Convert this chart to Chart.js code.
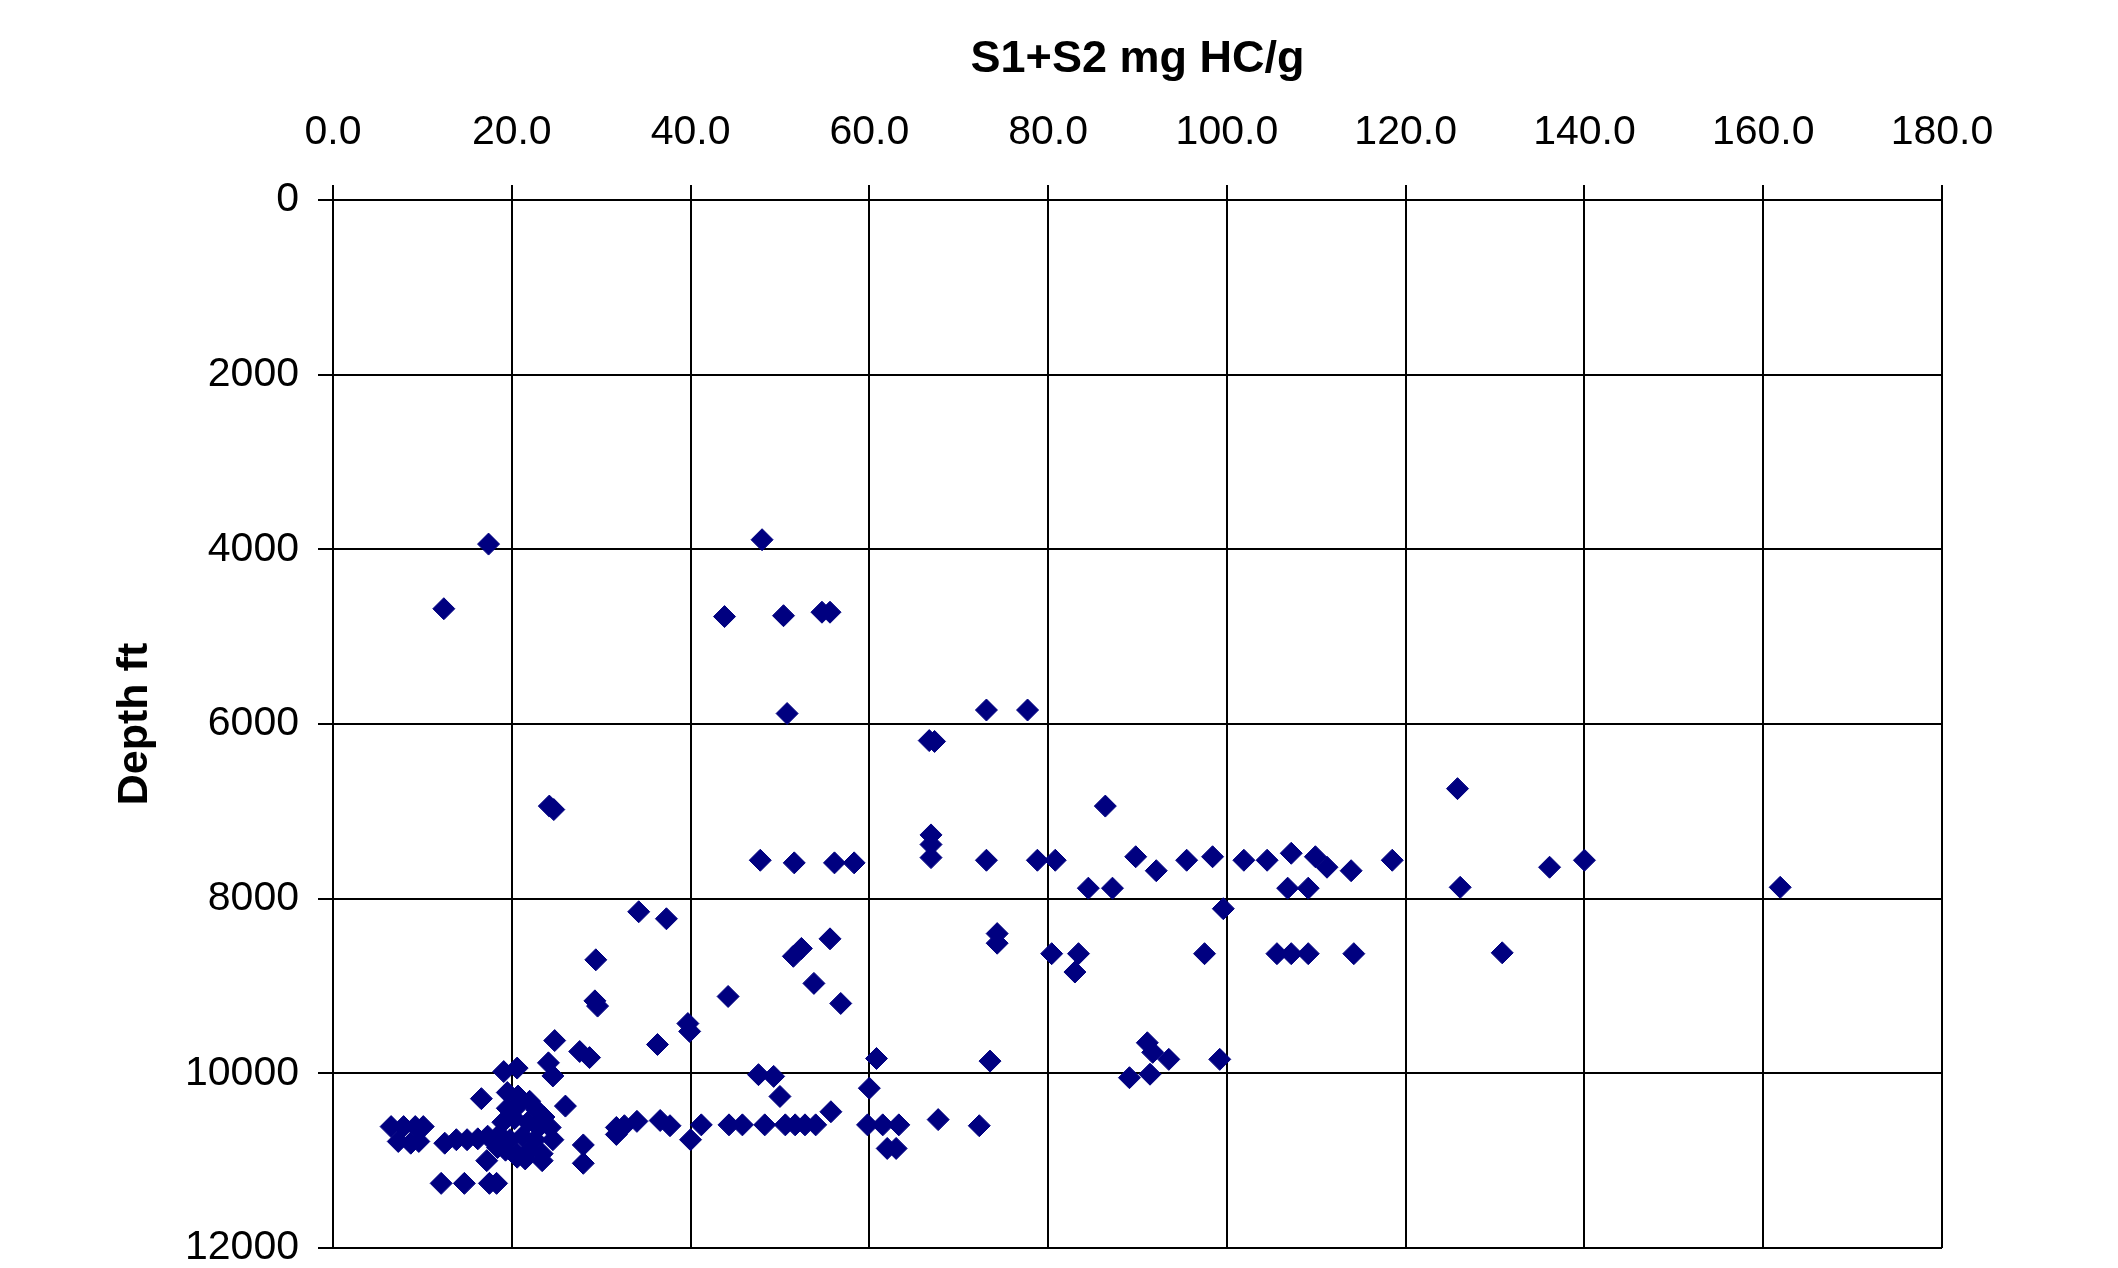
<!DOCTYPE html>
<html>
<head>
<meta charset="utf-8">
<title>S1+S2 vs Depth</title>
<script src="https://cdn.jsdelivr.net/npm/chart.js@4.4.1/dist/chart.umd.min.js"></script>
<style>
  html, body { margin: 0; padding: 0; background: #fff; }
  #wrap { width: 2118px; height: 1268px; position: relative; }
</style>
</head>
<body>
<div id="wrap"><canvas id="chart"></canvas></div>
<script>
// S1+S2 (mg HC/g), paired with depth (ft)
const s1s2Values = [
    17.4, 12.4, 48.0, 43.8, 50.4, 54.7, 55.6, 50.8, 24.2, 24.7, 73.1, 77.7, 66.7, 67.3, 86.4, 125.8,
    66.9, 66.9, 66.9, 47.8, 51.6, 56.1, 58.3, 73.1, 78.8, 80.8, 89.8, 92.1, 95.5, 98.4, 101.9, 104.5,
    107.2, 109.9, 111.2, 113.9, 118.5, 84.5, 87.2, 106.8, 109.1, 126.1, 136.1, 140.0, 161.9,
    34.2, 37.3, 99.6, 74.3, 74.3, 55.6, 52.4, 51.5, 29.4, 80.4, 83.4, 83.0, 97.5, 105.6, 107.2, 109.1,
    114.2, 130.8, 53.8,
    44.2, 29.3, 29.6, 56.8, 39.7, 39.9, 36.3, 24.8, 27.6, 28.7, 24.1, 60.8, 73.5, 91.1, 91.7, 93.5,
    99.2, 91.4, 89.1,
    24.6, 19.1, 20.6, 47.6, 49.3, 50.0, 60.0, 16.6, 19.5, 20.7, 26.0,
    31.7, 31.7, 32.6, 34.0, 36.6, 37.7, 40.0, 41.2, 44.3, 45.8, 48.3, 50.6, 51.7, 52.8, 54.0, 55.7,
    59.8, 61.5, 63.3, 67.7, 72.3, 62.0, 63.0, 28.0, 28.0,
    6.5, 7.9, 9.2, 10.1, 7.3, 8.7, 9.6, 12.5, 13.8, 15.0, 16.2, 17.3, 17.2, 12.1, 14.7, 17.5, 18.3,
    19.5, 20.8, 22.0, 22.8, 23.6, 24.3, 19.0, 20.3, 21.8, 23.0, 18.6, 19.8, 21.2, 22.6, 24.6, 19.3,
    20.6, 22.0, 23.4, 20.6, 21.5, 23.4, 18.4
];
const depthValues = [
    3940, 4680, 3890, 4770, 4760, 4720, 4720, 5880, 6940, 6980, 5840, 5840, 6190, 6200, 6940, 6740,
    7270, 7380, 7530, 7560, 7590, 7590, 7590, 7560, 7560, 7560, 7520, 7680, 7560, 7520, 7560, 7560,
    7480, 7520, 7640, 7680, 7560, 7880, 7880, 7880, 7880, 7870, 7640, 7560, 7870,
    8150, 8230, 8115, 8400, 8510, 8460, 8570, 8660, 8700, 8630, 8630, 8840, 8630, 8630, 8630, 8630,
    8630, 8620, 8970,
    9120, 9170, 9230, 9200, 9430, 9520, 9670, 9625, 9750, 9820, 9880, 9830, 9860, 9650, 9760, 9840,
    9840, 10010, 10050,
    10030, 9980, 9940, 10015, 10035, 10265, 10170, 10290, 10220, 10260, 10375,
    10620, 10700, 10600, 10550, 10540, 10600, 10760, 10590, 10590, 10590, 10590, 10590, 10590, 10590, 10590, 10440,
    10590, 10590, 10590, 10530, 10600, 10860, 10860, 10820, 11030,
    10610, 10610, 10610, 10610, 10780, 10800, 10780, 10800, 10760, 10760, 10750, 10720, 11000, 11260, 11260, 11260, 11260,
    10400, 10360, 10320, 10420, 10500, 10620, 10560, 10520, 10560, 10620, 10700, 10760, 10720, 10760, 10760, 10880,
    10920, 10880, 10920, 10960, 10980, 11000, 10850
];

const xTickLabels = ['0.0', '20.0', '40.0', '60.0', '80.0', '100.0', '120.0', '140.0', '160.0', '180.0'];
const yTickLabels = ['0', '2000', '4000', '6000', '8000', '10000', '12000'];

const points = s1s2Values.map((v, i) => ({ x: v, y: depthValues[i] }));

const tickFont = { family: "'Liberation Sans', Arial, sans-serif", size: 41 };
const titleFont = { family: "'Liberation Sans', Arial, sans-serif", size: 43, weight: 'bold' };

new Chart(document.getElementById('chart'), {
    type: 'scatter',
    data: {
        datasets: [{
            data: points,
            pointStyle: 'rectRot',
            pointRadius: 11,
            backgroundColor: '#000080',
            borderColor: '#000080',
            borderWidth: 1
        }]
    },
    options: {
        responsive: true,
        maintainAspectRatio: false,
        animation: false,
        events: [],
        layout: { padding: { left: 0, top: 0, right: 176, bottom: 20 } },
        plugins: {
            legend: { display: false },
            tooltip: { enabled: false }
        },
        scales: {
            x: {
                type: 'linear',
                position: 'top',
                min: 0,
                max: 180,
                ticks: {
                    stepSize: 20,
                    color: '#000',
                    font: tickFont,
                    padding: 28,
                    maxRotation: 0,
                    callback: (value, index) => xTickLabels[index]
                },
                grid: { color: '#000', lineWidth: 2, tickLength: 15 },
                border: { color: '#000', width: 2 },
                title: {
                    display: true,
                    text: 'S1+S2 mg HC/g',
                    color: '#000',
                    font: { ...titleFont, size: 45 },
                    padding: { top: 33, bottom: 0 }
                },
                afterFit: scale => { scale.height = 200; }
            },
            y: {
                type: 'linear',
                reverse: true,
                min: 0,
                max: 12000,
                ticks: {
                    stepSize: 2000,
                    color: '#000',
                    font: tickFont,
                    padding: 19,
                    // reversed axis: ticks come largest first
                    callback: (value, index, ticks) => yTickLabels[ticks.length - 1 - index]
                },
                grid: { color: '#000', lineWidth: 2, tickLength: 15 },
                border: { color: '#000', width: 2 },
                title: {
                    display: true,
                    text: 'Depth ft',
                    color: '#000',
                    font: titleFont,
                    padding: { top: 109, bottom: 0 }
                },
                afterFit: scale => {
                    scale.width = 333;
                    // let the end labels hang over the padding instead of shrinking the plot
                    scale.paddingTop = 0;
                    scale.paddingBottom = 0;
                }
            }
        }
    }
});
</script>
</body>
</html>
